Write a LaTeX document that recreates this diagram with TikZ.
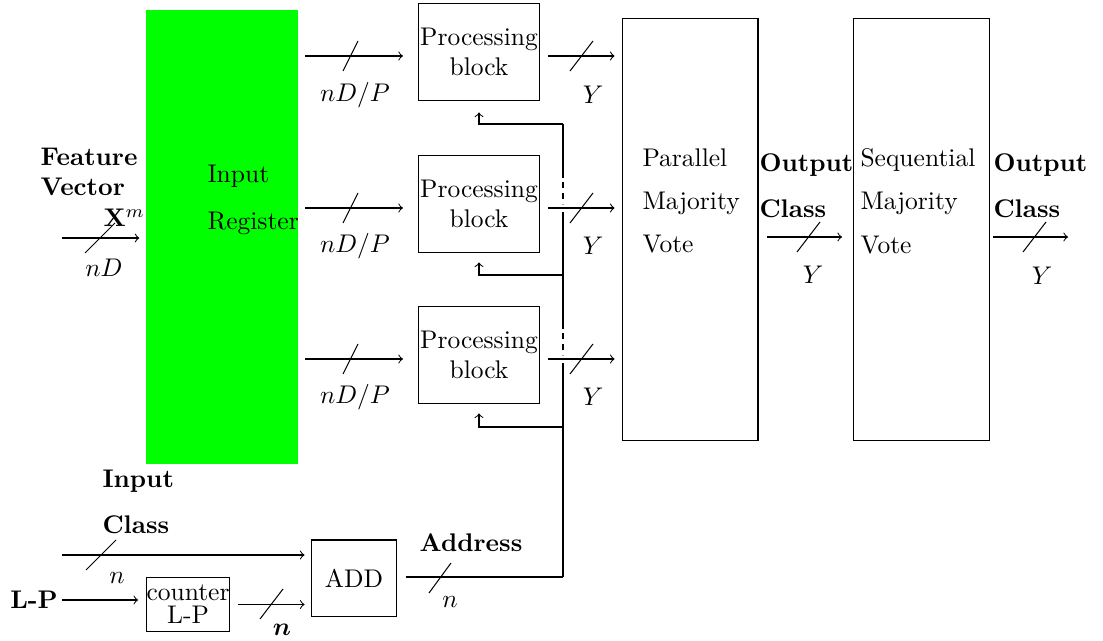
\documentclass[tikz,border=0pt]{standalone}
\usepackage{amsmath}
\usetikzlibrary{calc}

\begin{document}
\begin{tikzpicture}[x=0.392pt, y=-0.392pt, >=to,
    every node/.style={inner sep=0pt},
    block/.style={draw, align=center},
    lbl/.style={font=\bfseries, align=left},
    jump/.style={dash pattern=on 2.35pt off 1.96pt}]
  \useasboundingbox (0,0) rectangle (1103,641);

  % Register and processing blocks
  \node[fill=green, minimum width=59.6pt, minimum height=178pt] (inreg) at (222,237) {};
  \node[anchor=west, align=left] (inregtxt) at (207,200) {Input\\[6.4pt]Register};
  \node[block, minimum width=47.4pt, minimum height=38.4pt] (pb1) at (479,52) {Processing\\block};
  \node[block, minimum width=47.4pt, minimum height=38.4pt] (pb2) at (479,204) {Processing\\block};
  \node[block, minimum width=47.4pt, minimum height=38.4pt] (pb3) at (479,355) {Processing\\block};

  % Majority vote
  \node[draw, minimum width=53.3pt, minimum height=165.8pt] (pmv) at (690,229.5) {};
  \node[anchor=west, align=left] (pmvtxt) at (642,201) {Parallel\\[5pt]Majority\\[5pt]Vote};
  \node[draw, minimum width=53.3pt, minimum height=165.8pt] (smv) at (921.5,229.5) {};
  \node[anchor=west, align=left] (smvtxt) at (860,201) {Sequential\\[5pt]Majority\\[5pt]Vote};

  % Address part
  \node[block, minimum width=33pt, minimum height=29.8pt] (add) at (354,578) {ADD};
  \node[block, minimum width=32.5pt, minimum height=20.8pt] (cnt) at (188,604.5) {counter\\[-3pt]L-P};

  % Labels
  \node[lbl, anchor=west, text width=41pt] (fvlbl) at (40,187) {Feature Vector\\\hspace*{\fill}$\mathbf{X}^m$};
  \node[lbl, anchor=west] (oclbl1) at (759,186) {Output\\[6pt]Class};
  \node[lbl, anchor=west] (oclbl2) at (993,186) {Output\\[6pt]Class};
  \node[lbl, anchor=west] (iclbl) at (102,502) {Input\\[6pt]Class};
  \node[lbl] (addrlbl) at (471,543) {Address};
  \node[lbl] (lplbl) at (34,600) {L-P};
  \node (lnd) at (104,268) {$nD$};
  \node (lny1) at (813,275) {$Y$};
  \node (lny2) at (1042,276) {$Y$};
  \node (lnc) at (117,578) {$n$};
  \node (lncnt) at (282,630) {$\boldsymbol{n}$};
  \node (lnaddr) at (450,602) {$n$};

  \coordinate (fvin) at (62,238);
  \coordinate (icin) at (62,555);
  \coordinate (lpin) at (62,600);
  \coordinate (outend) at (1068,237);
  \coordinate (bustop) at (563,124);
  \coordinate (busbot) at (563,577);
  \coordinate (br2) at (563,275);
  \coordinate (br3) at (563,427);

  % Feature vector in
  \draw[->, shorten >=2.4pt] (fvin) -- (fvin -| inreg.west);
  \draw (100,238) ++(-15,15) -- ++(30,-30);

  % Parallel paths
  \foreach \i/\y/\ly in {1/56/95, 2/208/246, 3/359/397} {
    \coordinate (row\i) at (305,\y);
    \draw[->, shorten >=5.9pt] (row\i) -- (row\i -| pb\i.west);
    \draw (350.5,\y) ++(-7.5,15) -- ++(15,-30);
    \node (lndp\i) at (355,\ly) {$nD/P$};
    \draw[->, shorten <=3pt, shorten >=2.7pt] (row\i -| pb\i.east) -- (row\i -| pmv.west);
    \draw (581.5,\y) ++(-11.5,15) -- ++(23,-30);
    \node (ly\i) at (593,\ly) {$Y$};
  }

  % Output class
  \draw[->, shorten <=3.5pt, shorten >=4.3pt] (pmv.east |- outend) -- (smv.west |- outend);
  \draw (808.5,237) ++(-11.5,15) -- ++(23,-30);
  \draw[->, shorten <=1.2pt] (smv.east |- outend) -- (outend);
  \draw (1034.5,237) ++(-11.5,15) -- ++(23,-30);

  % Input class and counter
  \draw[->, shorten >=2.7pt] (icin) -- (icin -| add.west);
  \draw (101,555) ++(-15,15) -- ++(30,-30);
  \draw[->, shorten >=3.1pt] (lpin) -- (lpin -| cnt.west);
  \draw[->, shorten <=3.1pt, shorten >=2.7pt] (cnt.east) -- (cnt.east -| add.west);
  \draw (271.5,604) ++(-11.5,15) -- ++(23,-30);

  % Address bus back to the blocks
  \draw[shorten <=3.5pt] (add.east |- busbot) -- (busbot);
  \draw (440,578) ++(-11,15) -- ++(22,-30);
  \draw (bustop) -- (563,178);
  \draw[jump] (563,182) -- (563,204);
  \draw (563,212) -- (563,329);
  \draw[jump] (563,333) -- (563,355);
  \draw (563,363) -- (busbot);
  \draw[->, shorten >=4.3pt] (bustop) -| (pb1.south);
  \draw[->, shorten >=3.5pt] (br2) -| (pb2.south);
  \draw[->, shorten >=3.5pt] (br3) -| (pb3.south);
\end{tikzpicture}
\end{document}
